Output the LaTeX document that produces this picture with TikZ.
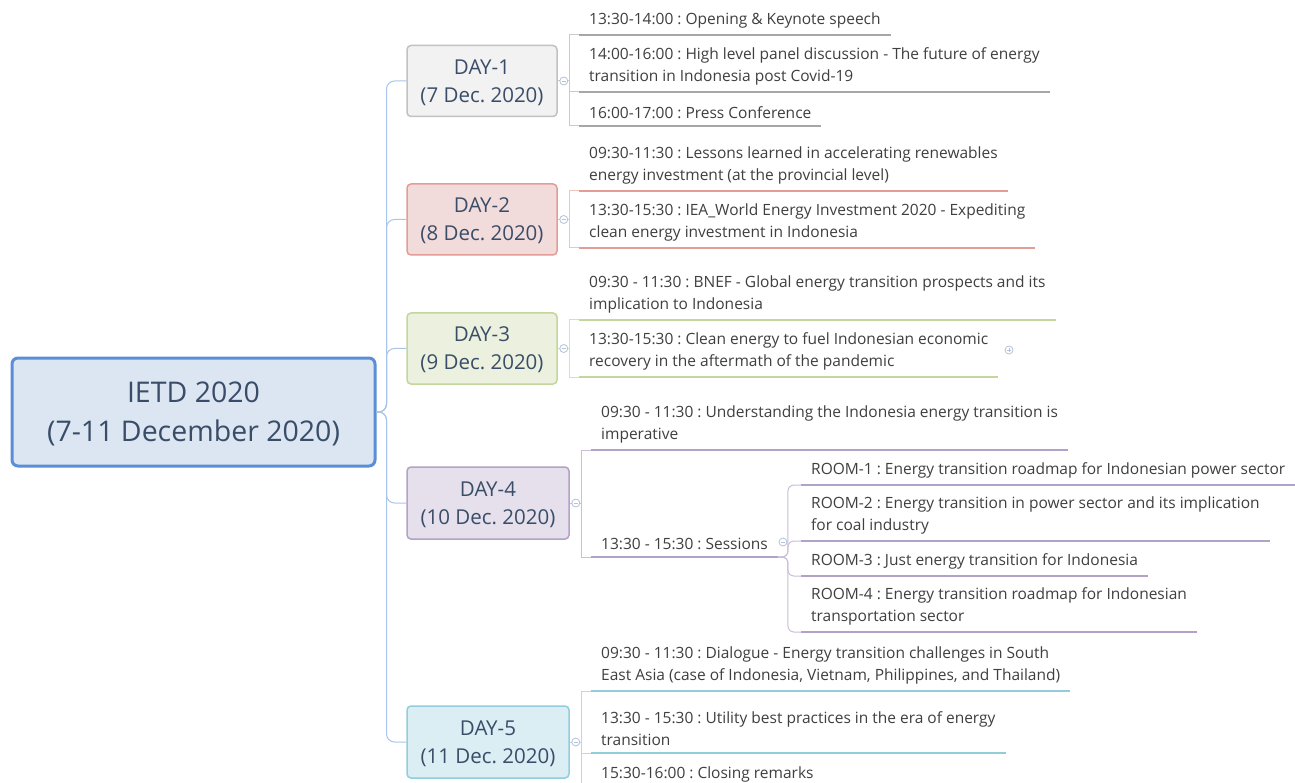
\documentclass[tikz,border=0pt]{standalone}
\usepackage{fontspec}
\setmainfont{Open Sans}
\usetikzlibrary{positioning, calc}
\frenchspacing

\definecolor{rootline}{HTML}{5A8ED6}
\definecolor{rootfill}{HTML}{DCE6F2}
\definecolor{trunk}{HTML}{A9C5EC}
\definecolor{boxtext}{HTML}{3A4D68}
\definecolor{topictext}{HTML}{3F3F3F}
\definecolor{togglec}{HTML}{B4C2D8}
\definecolor{greyfill}{HTML}{F2F2F2}
\definecolor{greyline}{HTML}{A6A6A6}
\definecolor{redfill}{HTML}{F2DCDB}
\definecolor{redline}{HTML}{E39C96}
\definecolor{greenfill}{HTML}{EBF1DE}
\definecolor{greenline}{HTML}{C3D69B}
\definecolor{purplefill}{HTML}{E5E0EC}
\definecolor{purpleline}{HTML}{B3A2C7}
\definecolor{bluefill}{HTML}{DBEEF4}
\definecolor{blueline}{HTML}{92CDDC}

\tikzset{
  root/.style={draw=rootline, line width=3pt, fill=rootfill, rounded corners=6pt, minimum width=363pt, minimum height=108pt, align=center, text depth=0pt, text=boxtext, font=\fontsize{28.5}{39}\selectfont},
  day/.style={line width=1.5pt, rounded corners=4pt, minimum width=150pt, minimum height=71pt, align=center, text depth=0pt, text=boxtext, font=\fontsize{20.5}{28}\selectfont},
  topic/.style={anchor=south west, inner xsep=10pt, inner ysep=7pt, align=left, text=topictext, font=\fontsize{15.5}{22}\selectfont},
  link/.style={line width=1pt},
  uline/.style={line width=2pt},
  toggle/.style={circle, draw=togglec, fill=white, minimum size=8pt, inner sep=0pt, line width=0.8pt,
    path picture={\draw[togglec, line width=0.8pt] ([xshift=-2pt]path picture bounding box.center) -- ([xshift=2pt]path picture bounding box.center);}},
  expand/.style={toggle, path picture={\draw[togglec, line width=0.8pt] ([yshift=-2pt]path picture bounding box.center) -- ([yshift=2pt]path picture bounding box.center) ([xshift=-2pt]path picture bounding box.center) -- ([xshift=2pt]path picture bounding box.center);}}
}

\begin{document}
\begin{tikzpicture}[x=1pt, y=-1pt]

  \useasboundingbox[fill=white] (0,0) rectangle (1295,783);

  % central topic and days
  \node[root] (ietd) at (193.5,412) {IETD 2020\\(7-11 December 2020)};
  \node[day, draw=greyline!70, fill=greyfill] (d1) at (482,81) {DAY-1\\(7 Dec. 2020)};
  \node[day, draw=redline, fill=redfill] (d2) at (482,219.5) {DAY-2\\(8 Dec. 2020)};
  \node[day, draw=greenline, fill=greenfill] (d3) at (482,348.5) {DAY-3\\(9 Dec. 2020)};
  \node[day, draw=purpleline, fill=purplefill, minimum width=162pt, minimum height=72pt] (d4) at (488,503) {DAY-4\\(10 Dec. 2020)};
  \node[day, draw=blueline, fill=bluefill, minimum width=162pt, minimum height=72pt] (d5) at (488,742) {DAY-5\\(11 Dec. 2020)};

  \draw[link, trunk, rounded corners=8pt] (ietd.east) -- ++(10,0) |- (d1.west);
  \draw[link, trunk, rounded corners=8pt] (ietd.east) -- ++(10,0) |- (d2.west);
  \draw[link, trunk, rounded corners=8pt] (ietd.east) -- ++(10,0) |- (d3.west);
  \draw[link, trunk, rounded corners=8pt] (ietd.east) -- ++(10,0) |- (d4.west);
  \draw[link, trunk, rounded corners=8pt] (ietd.east) -- ++(10,0) |- (d5.west);

  % day 1
  \node[topic] (d1a) at (579,35) {13:30-14:00 : Opening \& Keynote speech};
  \node[topic] (d1b) at (579,92) {14:00-16:00 : High level panel discussion - The future of energy\\transition in Indonesia post Covid-19};
  \node[topic] (d1c) at (579,126) {16:00-17:00 : Press Conference};
  \draw[link, greyline!60] (d1.east) -- ++(12,0) |- (d1a.south west);
  \draw[link, greyline!60] (d1.east) -- ++(12,0) |- (d1b.south west);
  \draw[link, greyline!60] (d1.east) -- ++(12,0) |- (d1c.south west);
  \draw[uline, greyline] (d1a.south west) -- (d1a.south east);
  \draw[uline, greyline] (d1b.south west) -- (d1b.south east);
  \draw[uline, greyline] (d1c.south west) -- (d1c.south east);
  \node[toggle] (t1) at ($(d1.east)+(6,0)$) {};

  % day 2
  \node[topic] (d2a) at (579,191) {09:30-11:30 : Lessons learned in accelerating renewables\\energy investment (at the provincial level)};
  \node[topic] (d2b) at (579,248) {13:30-15:30 : IEA\_World Energy Investment 2020 - Expediting\\clean energy investment in Indonesia};
  \draw[link, redline!60] (d2.east) -- ++(12,0) |- (d2a.south west);
  \draw[link, redline!60] (d2.east) -- ++(12,0) |- (d2b.south west);
  \draw[uline, redline] (d2a.south west) -- (d2a.south east);
  \draw[uline, redline] (d2b.south west) -- (d2b.south east);
  \node[toggle] (t2) at ($(d2.east)+(6,0)$) {};

  % day 3
  \node[topic] (d3a) at (579,320) {09:30 - 11:30 : BNEF - Global energy transition prospects and its\\implication to Indonesia};
  \node[topic] (d3b) at (579,377) {13:30-15:30 : Clean energy to fuel Indonesian economic\\recovery in the aftermath of the pandemic};
  \draw[link, greenline!70] (d3.east) -- ++(12,0) |- (d3a.south west);
  \draw[link, greenline!70] (d3.east) -- ++(12,0) |- (d3b.south west);
  \draw[uline, greenline] (d3a.south west) -- (d3a.south east);
  \draw[uline, greenline] (d3b.south west) -- (d3b.south east);
  \node[toggle] (t3) at ($(d3.east)+(6,0)$) {};
  \node[expand] (t3b) at (1009,350) {};

  % day 4
  \node[topic] (d4a) at (591,450) {09:30 - 11:30 : Understanding the Indonesia energy transition is\\imperative};
  \node[topic] (d4s) at (591,557) {13:30 - 15:30 : Sessions};
  \draw[link, purpleline!70] (d4.east) -- ++(12,0) |- (d4a.south west);
  \draw[link, purpleline!70] (d4.east) -- ++(12,0) |- (d4s.south west);
  \draw[uline, purpleline] (d4a.south west) -- (d4a.south east);
  \draw[uline, purpleline] (d4s.south west) -- (d4s.south east);
  \node[toggle] (t4) at ($(d4.east)+(6,0)$) {};

  \node[topic] (r1) at (801,485) {ROOM-1 : Energy transition roadmap for Indonesian power sector};
  \node[topic] (r2) at (801,541) {ROOM-2 : Energy transition in power sector and its implication\\for coal industry};
  \node[topic] (r3) at (801,576) {ROOM-3 : Just energy transition for Indonesia};
  \node[topic] (r4) at (801,632) {ROOM-4 : Energy transition roadmap for Indonesian\\transportation sector};
  \draw[link, purpleline!70, rounded corners=6pt] (d4s.south east) -- ++(10,0) |- (r1.south west);
  \draw[link, purpleline!70, rounded corners=6pt] (d4s.south east) -- ++(10,0) |- (r2.south west);
  \draw[link, purpleline!70, rounded corners=6pt] (d4s.south east) -- ++(10,0) |- (r3.south west);
  \draw[link, purpleline!70, rounded corners=6pt] (d4s.south east) -- ++(10,0) |- (r4.south west);
  \draw[uline, purpleline] (r1.south west) -- (r1.south east);
  \draw[uline, purpleline] (r2.south west) -- (r2.south east);
  \draw[uline, purpleline] (r3.south west) -- (r3.south east);
  \draw[uline, purpleline] (r4.south west) -- (r4.south east);
  \node[toggle] (t4s) at ($(d4s.south east)+(5,-15)$) {};

  % day 5
  \node[topic] (d5a) at (591,691) {09:30 - 11:30 : Dialogue - Energy transition challenges in South\\East Asia (case of Indonesia, Vietnam, Philippines, and Thailand)};
  \node[topic] (d5b) at (591,753) {13:30 - 15:30 : Utility best practices in the era of energy\\transition};
  \node[topic] (d5c) at (591,789) {15:30-16:00 : Closing remarks};
  \draw[link, blueline!70] (d5.east) -- ++(12,0) |- (d5a.south west);
  \draw[link, blueline!70] (d5.east) -- ++(12,0) |- (d5b.south west);
  \draw[link, blueline!70] (d5.east) -- ++(12,0) |- (d5c.south west);
  \draw[uline, blueline] (d5a.south west) -- (d5a.south east);
  \draw[uline, blueline] (d5b.south west) -- (d5b.south east);
  \draw[uline, blueline] (d5c.south west) -- (d5c.south east);
  \node[toggle] (t5) at ($(d5.east)+(6,0)$) {};

\end{tikzpicture}
\end{document}
